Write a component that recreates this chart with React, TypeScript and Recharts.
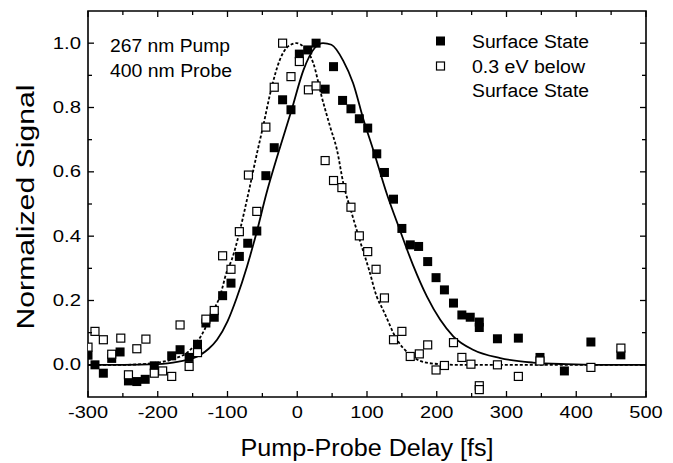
import React from "react";
import { ComposedChart, Scatter, Line, XAxis, YAxis, ReferenceArea, Customized } from "recharts";

// measured points, [delay fs, normalized signal]
const surfaceStatePts: [number, number][] = [
  [-300, 0.03], [-290, 0.0], [-278, -0.026], [-266, 0.02], [-254, 0.04], [-242, -0.05],
  [-230, -0.052], [-218, -0.045], [-205, -0.003], [-180, 0.028], [-168, 0.047], [-155, 0.023],
  [-143, 0.064], [-131, 0.13], [-119, 0.148], [-107, 0.215], [-95, 0.254], [-83, 0.337],
  [-71, 0.378], [-58, 0.416], [-45, 0.588], [-33, 0.675], [-21, 0.824], [-9, 0.793],
  [3, 0.966], [15, 0.979], [27, 1.0], [40, 0.857], [52, 0.927], [65, 0.822], [77, 0.796],
  [89, 0.765], [101, 0.736], [114, 0.656], [125, 0.598], [138, 0.515], [150, 0.424],
  [162, 0.373], [174, 0.368], [187, 0.321], [199, 0.271], [211, 0.233], [224, 0.192],
  [236, 0.155], [248, 0.148], [261, 0.133], [261, 0.116], [287, 0.081], [317, 0.083],
  [348, 0.023], [383, -0.019], [421, 0.071], [464, 0.031],
];

const belowStatePts: [number, number][] = [
  [-300, 0.055], [-290, 0.104], [-278, 0.078], [-266, 0.033], [-253, 0.083], [-242, -0.031],
  [-230, 0.05], [-217, 0.08], [-205, -0.026], [-193, -0.019], [-180, -0.036], [-168, 0.124],
  [-155, -0.005], [-143, 0.038], [-131, 0.142], [-119, 0.169], [-107, 0.339], [-95, 0.297],
  [-83, 0.414], [-70, 0.59], [-58, 0.477], [-45, 0.739], [-33, 0.863], [-21, 1.0],
  [-9, 0.896], [3, 0.943], [16, 0.855], [27, 0.867], [40, 0.635], [52, 0.573], [64, 0.551],
  [77, 0.49], [89, 0.401], [101, 0.352], [113, 0.297], [125, 0.208], [138, 0.078],
  [150, 0.104], [162, 0.026], [175, 0.034], [187, 0.062], [199, -0.016], [211, -0.002],
  [224, 0.069], [236, 0.023], [249, 0.002], [261, -0.065], [261, -0.077], [287, 0.0],
  [317, -0.036], [348, 0.012], [421, -0.008], [464, 0.052],
];

// fit curves
const surfaceFit: [number, number][] = [
  [-300, 0], [-250, 0], [-200, 0.002], [-170, 0.01], [-150, 0.02], [-139, 0.031],
  [-127, 0.05], [-115, 0.078], [-100, 0.135], [-87, 0.207], [-72, 0.306], [-58, 0.414],
  [-44, 0.534], [-27, 0.66], [-8, 0.793], [9, 0.917], [25, 0.985], [37, 1.0], [49, 0.995],
  [66, 0.945], [80, 0.876], [95, 0.762], [109, 0.668], [128, 0.534], [147, 0.42],
  [166, 0.31], [186, 0.212], [205, 0.14], [224, 0.088], [252, 0.047], [291, 0.021],
  [338, 0.007], [386, 0.002], [430, 0], [500, 0],
];

const belowFit: [number, number][] = [
  [-300, 0], [-250, 0], [-209, 0.005], [-175, 0.02], [-156, 0.041], [-137, 0.093],
  [-120, 0.17], [-111, 0.212], [-101, 0.29], [-94, 0.326], [-82, 0.42], [-70, 0.534],
  [-58, 0.655], [-49, 0.741], [-37, 0.86], [-25, 0.948], [-13, 0.99], [-1, 1.0], [11, 0.984],
  [23, 0.938], [35, 0.834], [47, 0.741], [57, 0.668], [66, 0.565], [78, 0.472], [90, 0.385],
  [103, 0.295], [114, 0.212], [123, 0.171], [143, 0.078], [162, 0.031], [190, 0.005],
  [230, 0], [500, 0],
];

const xTicks = [-300, -250, -200, -150, -100, -50, 0, 50, 100, 150, 200, 250, 300, 350, 400, 450, 500];
const yTicks = [0, 0.1, 0.2, 0.3, 0.4, 0.5, 0.6, 0.7, 0.8, 0.9, 1.0];

const toXY = (pts: [number, number][]) => pts.map(([x, y]) => ({ x, y }));

const FONT = "'Liberation Sans', Arial, Helvetica, sans-serif";
const PLOT_LEFT = 88;
const PLOT_RIGHT = 646;
const PLOT_TOP = 11;
const PLOT_BOTTOM = 397;

const XTick = (props: any) => {
  const { x, payload } = props;
  const v = payload.value;
  const major = v % 100 === 0;
  const len = major ? 6 : 4;
  return (
    <g>
      <line x1={x} x2={x} y1={PLOT_BOTTOM} y2={PLOT_BOTTOM - len} stroke="#000" strokeWidth={1.3} />
      <line x1={x} x2={x} y1={PLOT_TOP} y2={PLOT_TOP + len} stroke="#000" strokeWidth={1.3} />
      {major && (
        <text transform={`translate(${x},418) scale(1.25,1)`} textAnchor="middle" fontSize={16} fontFamily={FONT} fill="#000">
          {String(v)}
        </text>
      )}
    </g>
  );
};

const YTick = (props: any) => {
  const { y, payload } = props;
  const v = payload.value;
  const major = Math.round(v * 10) % 2 === 0;
  const len = major ? 6 : 4;
  return (
    <g>
      <line x1={PLOT_LEFT} x2={PLOT_LEFT + len} y1={y} y2={y} stroke="#000" strokeWidth={1.3} />
      <line x1={PLOT_RIGHT} x2={PLOT_RIGHT - len} y1={y} y2={y} stroke="#000" strokeWidth={1.3} />
      {major && (
        <text transform={`translate(81,${y + 5.5}) scale(1.27,1)`} textAnchor="end" fontSize={16} fontFamily={FONT} fill="#000">
          {v.toFixed(1)}
        </text>
      )}
    </g>
  );
};

const FilledSquare = (props: any) => {
  const { cx, cy } = props;
  return <rect x={cx - 4.5} y={cy - 4.5} width={9} height={9} fill="#000" />;
};

const OpenSquare = (props: any) => {
  const { cx, cy } = props;
  return <rect x={cx - 4} y={cy - 4} width={8} height={8} fill="#fff" stroke="#000" strokeWidth={1.2} />;
};

const Annotations = () => (
  <g fontFamily={FONT} fill="#000">
    <text x={110} y={52} fontSize={18} textLength={120} lengthAdjust="spacingAndGlyphs">267 nm Pump</text>
    <text x={110} y={77} fontSize={18} textLength={122} lengthAdjust="spacingAndGlyphs">400 nm Probe</text>
    <rect x={436} y={36.5} width={9} height={9} fill="#000" />
    <rect x={436.5} y={62} width={8} height={8} fill="#fff" stroke="#000" strokeWidth={1.2} />
    <text x={472} y={48} fontSize={18} textLength={117} lengthAdjust="spacingAndGlyphs">Surface State</text>
    <text x={472} y={73} fontSize={18} textLength={113} lengthAdjust="spacingAndGlyphs">0.3 eV below</text>
    <text x={472} y={97} fontSize={18} textLength={117} lengthAdjust="spacingAndGlyphs">Surface State</text>
    <text x={367} y={456} fontSize={23} textAnchor="middle" textLength={253} lengthAdjust="spacingAndGlyphs">
      Pump-Probe Delay [fs]
    </text>
    <text transform="translate(34,207) rotate(-90)" fontSize={23} textAnchor="middle" textLength={245} lengthAdjust="spacingAndGlyphs">
      Normalized Signal
    </text>
  </g>
);

export default function App() {
  return (
    <div style={{ position: "absolute", left: 0, top: 0, background: "#fff" }}>
      <ComposedChart
        width={673}
        height={463}
        margin={{ top: PLOT_TOP, right: 673 - PLOT_RIGHT, bottom: 0, left: 0 }}
      >
        <XAxis
          dataKey="x"
          type="number"
          domain={[-300, 500]}
          ticks={xTicks}
          interval={0}
          allowDataOverflow
          axisLine={false}
          tickLine={false}
          tickSize={0}
          height={463 - PLOT_BOTTOM}
          tick={<XTick />}
        />
        <YAxis
          dataKey="y"
          type="number"
          domain={[-0.1, 1.1]}
          ticks={yTicks}
          interval={0}
          allowDataOverflow
          axisLine={false}
          tickLine={false}
          tickSize={0}
          width={PLOT_LEFT}
          tick={<YTick />}
        />
        <Scatter data={toXY(surfaceStatePts)} dataKey="y" shape={<FilledSquare />} isAnimationActive={false} />
        <Scatter data={toXY(belowStatePts)} dataKey="y" shape={<OpenSquare />} isAnimationActive={false} />
        <Line
          data={toXY(surfaceFit)}
          dataKey="y"
          type="monotone"
          stroke="#000"
          strokeWidth={1.8}
          dot={false}
          activeDot={false}
          isAnimationActive={false}
        />
        <Line
          data={toXY(belowFit)}
          dataKey="y"
          type="monotone"
          stroke="#000"
          strokeWidth={1.8}
          strokeDasharray="3 2"
          dot={false}
          activeDot={false}
          isAnimationActive={false}
        />
        <ReferenceArea x1={-300} x2={500} y1={-0.1} y2={1.1} fill="none" stroke="#000" strokeWidth={1.6} ifOverflow="visible" />
        <Customized component={<Annotations />} />
      </ComposedChart>
    </div>
  );
}
